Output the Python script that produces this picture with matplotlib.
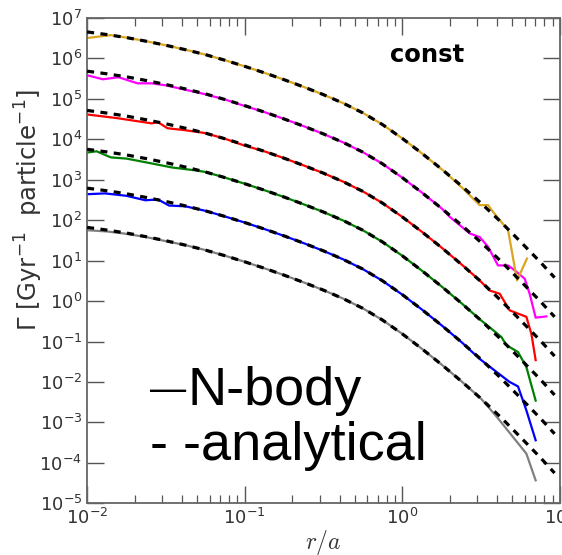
import numpy as np
import matplotlib
matplotlib.use("Agg")
import matplotlib.pyplot as plt
from matplotlib.ticker import LogLocator, NullLocator

plt.rcParams['mathtext.fontset'] = 'dejavusans'

# analytical rate profile (log10 r/a, log10 Gamma) for the lowest curve
model_logr = [-2.0, -1.875, -1.75, -1.625, -1.5, -1.375, -1.25, -1.125, -1.0, -0.875, -0.75,
              -0.625, -0.5, -0.375, -0.25, -0.125, 0.0, 0.125, 0.25, 0.375, 0.5, 0.625,
              0.75, 0.875, 0.967]
model_logg = [1.82, 1.755, 1.68, 1.59, 1.49, 1.38, 1.26, 1.12, 0.97, 0.81, 0.64,
              0.46, 0.27, 0.06, -0.18, -0.47, -0.81, -1.18, -1.57, -1.98, -2.41, -2.87,
              -3.36, -3.86, -4.25]
# vertical shift (in dex) applied to each curve pair
series_names = ['gray', 'blue', 'green', 'red', 'magenta', 'orange']
series_shift = [0.0, 0.97, 1.93, 2.89, 3.86, 4.83]
series_colors = ['#808080', '#0000ff', '#008000', '#ff0000', '#ff00ff', '#daa520']

# N-body measurements (log10 r/a, log10 Gamma)
gray_logr = [-2.0, -1.875, -1.75, -1.625, -1.5, -1.375, -1.25, -1.125, -1.0, -0.875, -0.75,
             -0.625, -0.5, -0.375, -0.25, -0.125, 0.0, 0.125, 0.25, 0.375, 0.5, 0.598,
             0.788, 0.847]
gray_logg = [1.75, 1.72, 1.66, 1.58, 1.48, 1.38, 1.26, 1.12, 0.97, 0.81, 0.64,
             0.46, 0.27, 0.06, -0.18, -0.47, -0.81, -1.18, -1.57, -1.98, -2.41, -2.85,
             -3.77, -4.43]

blue_logr = [-2.0, -1.886, -1.75, -1.63, -1.55, -1.48, -1.375, -1.25, -1.125, -1.0, -0.875,
             -0.75, -0.625, -0.5, -0.375, -0.25, -0.125, 0.0, 0.125, 0.25, 0.375, 0.492,
             0.598, 0.682, 0.735, 0.788, 0.847]
blue_logg = [2.64, 2.66, 2.60, 2.49, 2.51, 2.36, 2.34, 2.23, 2.09, 1.94, 1.78,
             1.61, 1.43, 1.24, 1.03, 0.79, 0.50, 0.16, -0.21, -0.60, -1.01, -1.43,
             -1.75, -2.0, -2.11, -2.70, -3.44]

green_logr = [-2.0, -1.94, -1.85, -1.75, -1.59, -1.46, -1.315, -1.25, -1.125, -1.0, -0.875,
              -0.75, -0.625, -0.5, -0.375, -0.25, -0.125, 0.0, 0.125, 0.25, 0.375, 0.492,
              0.577, 0.63, 0.661, 0.735, 0.788, 0.847]
green_logg = [3.67, 3.70, 3.55, 3.52, 3.40, 3.30, 3.23, 3.19, 3.05, 2.90, 2.74,
              2.57, 2.39, 2.20, 1.99, 1.75, 1.46, 1.12, 0.75, 0.36, -0.05, -0.45,
              -0.72, -0.89, -1.09, -1.26, -1.63, -2.46]

red_logr = [-2.0, -1.81, -1.59, -1.55, -1.49, -1.375, -1.25, -1.125, -1.0, -0.875, -0.75,
            -0.625, -0.5, -0.375, -0.25, -0.125, 0.0, 0.125, 0.25, 0.375, 0.492, 0.555,
            0.619, 0.682, 0.735, 0.788, 0.82, 0.847]
red_logg = [4.61, 4.52, 4.39, 4.42, 4.27, 4.22, 4.15, 4.01, 3.84, 3.70, 3.53,
            3.35, 3.16, 2.95, 2.71, 2.42, 2.08, 1.71, 1.32, 0.91, 0.51, 0.26,
            0.18, -0.23, -0.31, -0.39, -0.81, -1.46]

magenta_logr = [-2.0, -1.9, -1.8, -1.68, -1.59, -1.5, -1.375, -1.25, -1.125, -1.0, -0.875,
                -0.75, -0.625, -0.5, -0.375, -0.25, -0.125, 0.0, 0.125, 0.25, 0.302, 0.429,
                0.492, 0.545, 0.608, 0.672, 0.714, 0.778, 0.809, 0.847, 0.915]
magenta_logg = [5.58, 5.48, 5.53, 5.38, 5.38, 5.33, 5.22, 5.11, 4.98, 4.82, 4.67,
                4.50, 4.32, 4.13, 3.92, 3.68, 3.39, 3.05, 2.68, 2.29, 2.08, 1.67,
                1.58, 1.34, 0.88, 0.88, 0.76, 0.55, 0.18, -0.41, -0.38]

orange_logr = [-2.0, -1.85, -1.75, -1.625, -1.5, -1.375, -1.25, -1.125, -1.0, -0.875, -0.75,
               -0.625, -0.5, -0.375, -0.25, -0.125, 0.0, 0.125, 0.259, 0.386, 0.471, 0.492,
               0.545, 0.577, 0.672, 0.729, 0.792]
orange_logg = [6.50, 6.57, 6.51, 6.42, 6.32, 6.21, 6.09, 5.95, 5.80, 5.64, 5.47,
               5.29, 5.10, 4.89, 4.65, 4.36, 4.02, 3.65, 3.23, 2.78, 2.45, 2.37,
               2.37, 2.20, 1.75, 0.51, 1.05]

nbody = [(gray_logr, gray_logg), (blue_logr, blue_logg), (green_logr, green_logg),
         (red_logr, red_logg), (magenta_logr, magenta_logg), (orange_logr, orange_logg)]

fig = plt.figure(figsize=(5.62, 5.55), dpi=100)
ax = fig.add_axes([0.155, 0.093, 0.841, 0.875])

mr = 10 ** np.array(model_logr)
for (lr, lg), shift, col in zip(nbody, series_shift, series_colors):
    ax.plot(10 ** np.array(lr), 10 ** np.array(lg), color=col, lw=1.6, zorder=2)
    ax.plot(mr, 10 ** (np.array(model_logg) + shift), color='black', lw=2.3,
            linestyle=(0, (2.2, 2.0)), zorder=3)

ax.set_xscale('log')
ax.set_yscale('log')
ax.set_xlim(1e-2, 1e1)
ax.set_ylim(1e-5, 1e7)
ax.yaxis.set_major_locator(LogLocator(base=10, numticks=20))
ax.yaxis.set_minor_locator(NullLocator())
ax.xaxis.set_minor_locator(LogLocator(base=10, subs=np.arange(2, 10), numticks=20))

for s in ax.spines.values():
    s.set_color('#666666')
    s.set_linewidth(1.3)
ax.tick_params(which='both', direction='in', top=True, right=True, colors='#555555',
               labelcolor='#333333', labelsize=13)
ax.tick_params(which='major', length=12, width=1.0)
ax.tick_params(which='minor', length=6, width=0.9)

ax.set_xlabel(r'$r/a$', fontsize=17, color='#333333', labelpad=0,
              math_fontfamily='cm')
ax.set_ylabel(r'$\Gamma$ [Gyr$^{-1}$  particle$^{-1}$]', fontsize=17.5, color='#333333')
ax.yaxis.set_label_coords(-0.09, 0.605)

fig.text(427 / 562, 1 - 55 / 555, 'const', fontsize=17.5, fontweight='bold',
         ha='center', va='center', color='black')

fig.text(150 / 562, 1 - 390 / 555, '\u2014', fontsize=26, family='Liberation Sans',
         ha='left', va='center', color='black')
fig.text(188 / 562, 1 - 405 / 555, 'N-body', fontsize=39, family='Liberation Sans',
         ha='left', va='baseline', color='black')
fig.text(150 / 562, 1 - 460 / 555, '- -analytical', fontsize=39, family='Liberation Sans',
         ha='left', va='baseline', color='black')

fig.savefig('out.png', dpi=100)
